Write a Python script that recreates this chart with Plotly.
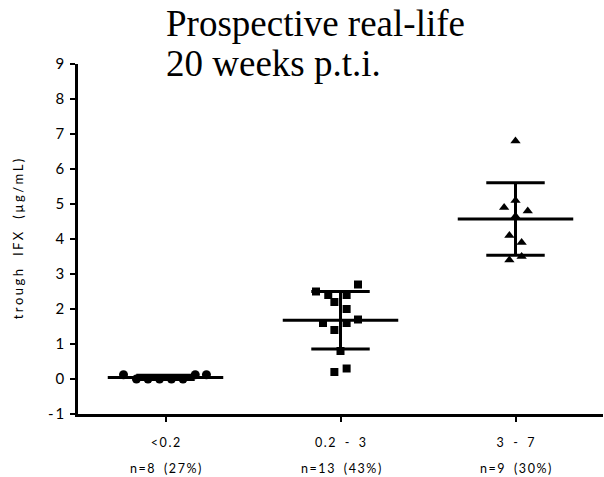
import numpy as np
import plotly.graph_objects as go

# Trough infliximab concentrations per dosing band
categories = ["<0.2", "0.2 - 3", "3 - 7"]
group_counts = ["n=8 (27%)", "n=13 (43%)", "n=9 (30%)"]
low_vals = [0.12, 0.0, 0.0, 0.0, 0.0, 0.0, 0.12, 0.12]
mid_vals = [2.7, 2.5, 2.4, 2.4, 2.2, 2.0, 1.7, 1.6, 1.6, 1.4, 0.8, 0.3, 0.2]
high_vals = [6.8, 5.1, 4.9, 4.8, 4.65, 4.1, 3.9, 3.4, 3.5]
y_ticks = list(range(-1, 10))
title_lines = ["Prospective real-life", "20 weeks p.t.i."]

# horizontal scatter offsets (category units) so overlapping points stay visible
low_dx = [-0.24, -0.166, -0.10, -0.034, 0.034, 0.10, 0.17, 0.234]
mid_dx = [0.10, -0.14, -0.07, 0.035, -0.035, 0.035, 0.10, -0.10, 0.035, -0.035, 0.0, 0.035, -0.035]
high_dx = [0.0, 0.0, -0.065, 0.07, 0.0, -0.035, 0.035, -0.035, 0.035]

SANS = "Lato"


def spaced(s, gap="\u2009", word="\u2002"):
    return gap.join(word if ch == " " else ch for ch in s)


groups = [
    (low_vals, low_dx, "circle", 9),
    (mid_vals, mid_dx, "square", 8),
    (high_vals, high_dx, "triangle-up", 9),
]

fig = go.Figure()
line_style = dict(color="black", width=3)

for i, (vals, dx, symbol, size) in enumerate(groups):
    vals = np.array(vals)
    mean = vals.mean()
    sd = vals.std(ddof=1)
    # mean bar
    fig.add_trace(go.Scatter(x=[i - 0.33, i + 0.33], y=[mean, mean], mode="lines",
                             line=line_style, hoverinfo="skip"))
    # SD whiskers
    fig.add_trace(go.Scatter(x=[i, i], y=[mean - sd, mean + sd], mode="lines",
                             line=line_style, hoverinfo="skip"))
    for yy in (mean - sd, mean + sd):
        fig.add_trace(go.Scatter(x=[i - 0.167, i + 0.167], y=[yy, yy], mode="lines",
                                 line=line_style, hoverinfo="skip"))
    fig.add_trace(go.Scatter(x=[i + d for d in dx], y=vals, mode="markers",
                             marker=dict(symbol=symbol, size=size, color="black",
                                         line=dict(width=0))))

for i, txt in enumerate(group_counts):
    fig.add_annotation(x=i, xref="x", y=-0.156, yref="paper", text=spaced(txt),
                       showarrow=False, font=dict(family=SANS, size=12.5, color="black"),
                       xanchor="center", yanchor="middle")

# two-line heading, each line placed separately for tight leading
for k, line in enumerate(title_lines):
    fig.add_annotation(x=0.163, xref="paper", y=1.116 - k * 0.114, yref="paper",
                       text=line, showarrow=False, xanchor="left", yanchor="middle",
                       font=dict(family="Liberation Serif", size=37, color="black"))

fig.update_layout(
    width=604, height=477,
    margin=dict(l=78, r=1, t=64, b=63),
    paper_bgcolor="white", plot_bgcolor="white",
    showlegend=False,
    xaxis=dict(range=[-0.5, 2.5], tickvals=[0, 1, 2],
               ticktext=[spaced(c) for c in categories],
               showgrid=False, zeroline=False, showline=True, linecolor="black",
               linewidth=2.5, ticks="outside", ticklen=5, tickwidth=2, tickcolor="black",
               ticklabelstandoff=10,
               tickfont=dict(family=SANS, size=12.5, color="black")),
    yaxis=dict(range=[-1, 9], tickvals=y_ticks,
               ticktext=[spaced(str(v)) for v in y_ticks],
               showgrid=False, zeroline=False, showline=True, linecolor="black",
               linewidth=2.5, ticks="outside", ticklen=5, tickwidth=2, tickcolor="black",
               ticklabelstandoff=3,
               tickfont=dict(family=SANS, size=15, color="black"),
               title=dict(text=spaced("trough IFX (µg/mL)", gap="\u2009\u200a",
                                      word="\u2002\u2009"),
                          font=dict(family=SANS, size=13, color="black"), standoff=22)),
)

fig.write_html("out.html")
